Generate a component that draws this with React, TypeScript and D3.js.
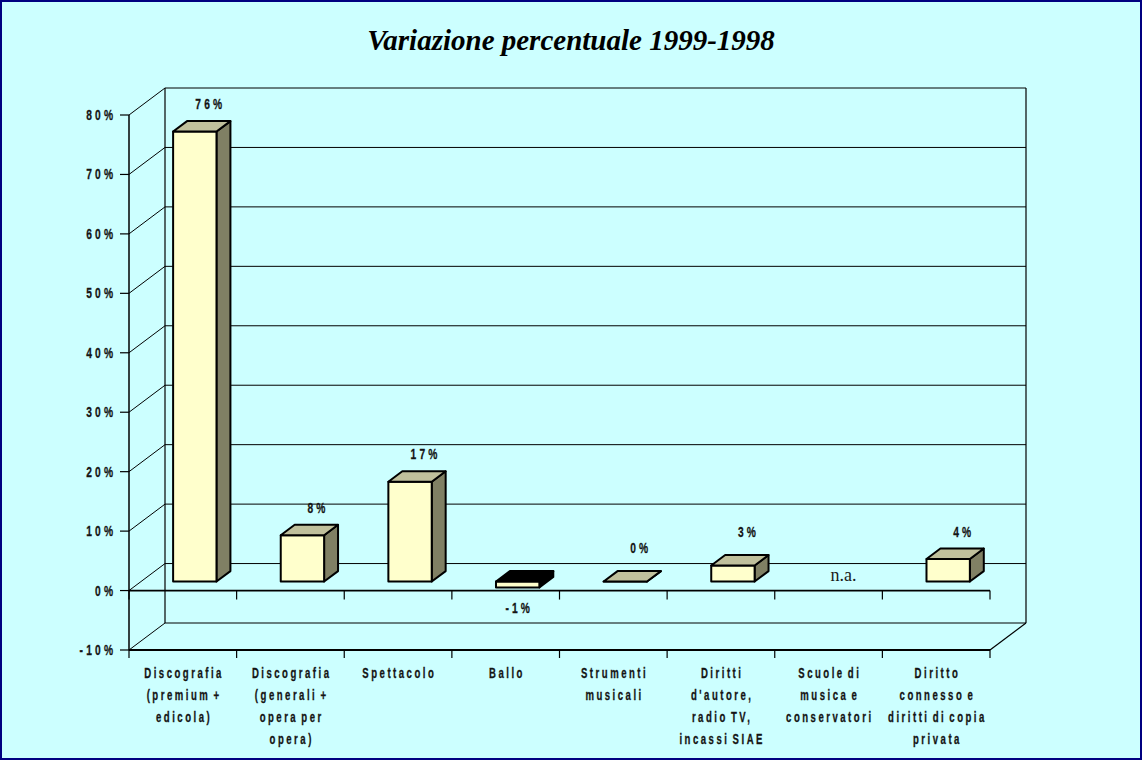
import React from "react";
import * as d3 from "d3";

const categories = [
  "Discografia (premium + edicola)",
  "Discografia (generali + opera per opera)",
  "Spettacolo",
  "Ballo",
  "Strumenti musicali",
  "Diritti d'autore, radio TV, incassi SIAE",
  "Scuole di musica e conservatori",
  "Diritto connesso e diritti di copia privata",
];
const categoryLines = [
  ["Discografia", "(premium +", "edicola)"],
  ["Discografia", "(generali +", "opera per", "opera)"],
  ["Spettacolo"],
  ["Ballo"],
  ["Strumenti", "musicali"],
  ["Diritti", "d'autore,", "radio TV,", "incassi SIAE"],
  ["Scuole di", "musica e", "conservatori"],
  ["Diritto", "connesso e", "diritti di copia", "privata"],
];
const values: (number | null)[] = [75.7, 7.8, 16.8, -1, 0, 2.7, null, 3.8];
const yTicks = [-10, 0, 10, 20, 30, 40, 50, 60, 70, 80];
const title = "Variazione percentuale 1999-1998";
const naLabel = "n.a.";

const W = 1142;
const H = 760;
const BG = "#CCFFFF";
const FRONT = "#FFFFCC";
const TOP = "#C0C09C";
const SIDE = "#808064";
const DX = 36;
const DY = -27;
const Z0 = 0.333;
const Z1 = 0.72;
const SANS = "'Liberation Sans', Arial, sans-serif";
const SX = 0.66;

type NProps = {
  x: number;
  y: number;
  lines: string[];
  anchor: "start" | "middle" | "end";
  size: number;
  spacing: number;
  lineH?: number;
};

function NText({ x, y, lines, anchor, size, spacing, lineH = 22 }: NProps) {
  const shift = anchor === "middle" ? spacing / 2 : anchor === "end" ? spacing : 0;
  return (
    <g transform={`translate(${x},${y}) scale(${SX},1)`}>
      <text
        textAnchor={anchor}
        fontFamily={SANS}
        fontWeight="bold"
        fontSize={size}
        letterSpacing={spacing}
        wordSpacing={-3}
        fill="#141414"
        stroke="#141414"
        strokeWidth={0.3}
      >
        {lines.map((ln, j) => (
          <tspan key={j} x={shift} y={j * lineH}>
            {ln}
          </tspan>
        ))}
      </text>
    </g>
  );
}

export default function App() {
  const x = d3.scaleBand<string>().domain(categories).range([129, 990]).padding(0);
  const y = d3.scaleLinear().domain([-10, 80]).range([650, 115]);
  const bw = x.bandwidth();
  const hw = bw * 0.2015;
  const P = (xf: number, v: number, z: number): [number, number] => [xf + z * DX, y(v) + z * DY];
  const poly = (pts: [number, number][]) => pts.map((p) => p.join(",")).join(" ");

  const x0 = x.range()[0];
  const x1 = x.range()[1];
  const yMin = y.domain()[0];
  const yMax = y.domain()[1];

  return (
    <>
      <style>{`body{margin:0}`}</style>
      <svg width={W} height={H} style={{ display: "block" }}>
        <rect x={1} y={1} width={W - 2} height={H - 2} fill={BG} stroke="#000080" strokeWidth={2} />
        <text
          x={W / 2}
          y={50}
          textAnchor="middle"
          fontFamily="'Liberation Serif', 'Times New Roman', serif"
          fontStyle="italic"
          fontWeight="bold"
          fontSize={29}
        >
          {title}
        </text>

        {/* back wall gridlines */}
        {yTicks.map((t) => {
          const a = P(x0, t, 1);
          const b = P(x1, t, 1);
          return <line key={"g" + t} x1={a[0]} y1={a[1]} x2={b[0]} y2={b[1]} stroke="#000" strokeWidth={1} />;
        })}
        {/* left wall diagonals */}
        {yTicks.map((t) => {
          const a = P(x0, t, 0);
          const b = P(x0, t, 1);
          return <line key={"d" + t} x1={a[0]} y1={a[1]} x2={b[0]} y2={b[1]} stroke="#000" strokeWidth={1} />;
        })}
        {/* back wall edges */}
        {(() => {
          const a = P(x0, yMax, 1);
          const b = P(x0, yMin, 1);
          const c = P(x1, yMax, 1);
          const d = P(x1, yMin, 1);
          const e = P(x1, yMin, 0);
          return (
            <g stroke="#000" strokeWidth={1.2} fill="none">
              <line x1={a[0]} y1={a[1]} x2={b[0]} y2={b[1]} />
              <line x1={c[0]} y1={c[1]} x2={d[0]} y2={d[1]} />
              <line x1={d[0]} y1={d[1]} x2={e[0]} y2={e[1]} />
            </g>
          );
        })()}
        {/* front y axis */}
        <line x1={x0} y1={y(yMax)} x2={x0} y2={y(yMin)} stroke="#000" strokeWidth={1.5} />
        {yTicks.map((t) => (
          <g key={"t" + t}>
            <line x1={x0 - 9} y1={y(t)} x2={x0} y2={y(t)} stroke="#000" strokeWidth={1.2} />
            <NText x={113} y={y(t) + 5} lines={[t + "%"]} anchor="end" size={15.5} spacing={4.8} />
          </g>
        ))}
        {/* zero line and floor front edge with ticks */}
        <line x1={x0} y1={y(0)} x2={x1} y2={y(0)} stroke="#000" strokeWidth={1.8} />
        <line x1={x0} y1={y(yMin)} x2={x1} y2={y(yMin)} stroke="#000" strokeWidth={1.8} />
        {[...categories.map((c) => x(c) as number), x1].map((xv, i) => (
          <g key={"ct" + i} stroke="#000" strokeWidth={1.2}>
            <line x1={xv} y1={y(0)} x2={xv} y2={y(0) + 9} />
            <line x1={xv} y1={y(yMin)} x2={xv} y2={y(yMin) + 8} />
          </g>
        ))}

        {/* bars */}
        {categories.map((c, i) => {
          const v = values[i];
          const xc = (x(c) as number) + bw / 2;
          if (v === null) {
            return (
              <text
                key={"b" + i}
                x={xc + 15}
                y={y(0) - 10}
                textAnchor="middle"
                fontFamily="'Liberation Serif', 'Times New Roman', serif"
                fontSize={18}
                fill="#1a1a1a"
              >
                {naLabel}
              </text>
            );
          }
          const top = Math.max(v, 0);
          const bot = Math.min(v, 0);
          const a = xc - hw;
          const b = xc + hw;
          const neg = v < 0;
          const frontPts = [P(a, top, Z0), P(b, top, Z0), P(b, bot, Z0), P(a, bot, Z0)];
          const topPts = [P(a, top, Z0), P(b, top, Z0), P(b, top, Z1), P(a, top, Z1)];
          const sidePts = [P(b, top, Z0), P(b, top, Z1), P(b, bot, Z1), P(b, bot, Z0)];
          const lbl = `${Math.round(v)}%`;
          const lp = neg ? P(xc, bot, Z0) : P(xc, top, Z1);
          const ly = neg ? lp[1] + 25 : lp[1] - (v < 3 ? 18 : 12);
          const lx = lp[0];
          return (
            <g key={"b" + i}>
              <polygon points={poly(sidePts)} fill={neg ? "#000" : SIDE} stroke="#000" strokeWidth={2} strokeLinejoin="round" />
              <polygon points={poly(frontPts)} fill={FRONT} stroke="#000" strokeWidth={2} strokeLinejoin="round" />
              <polygon points={poly(topPts)} fill={neg ? "#000" : TOP} stroke="#000" strokeWidth={2} strokeLinejoin="round" />
              <NText x={lx} y={ly} lines={[lbl]} anchor="middle" size={15.5} spacing={4.8} />
            </g>
          );
        })}

        {/* category labels */}
        {categories.map((c, i) => (
          <NText
            key={"cl" + i}
            x={(x(c) as number) + bw / 2}
            y={678}
            lines={categoryLines[i]}
            anchor="middle"
            size={14.5}
            spacing={3.8}
          />
        ))}
      </svg>
    </>
  );
}
